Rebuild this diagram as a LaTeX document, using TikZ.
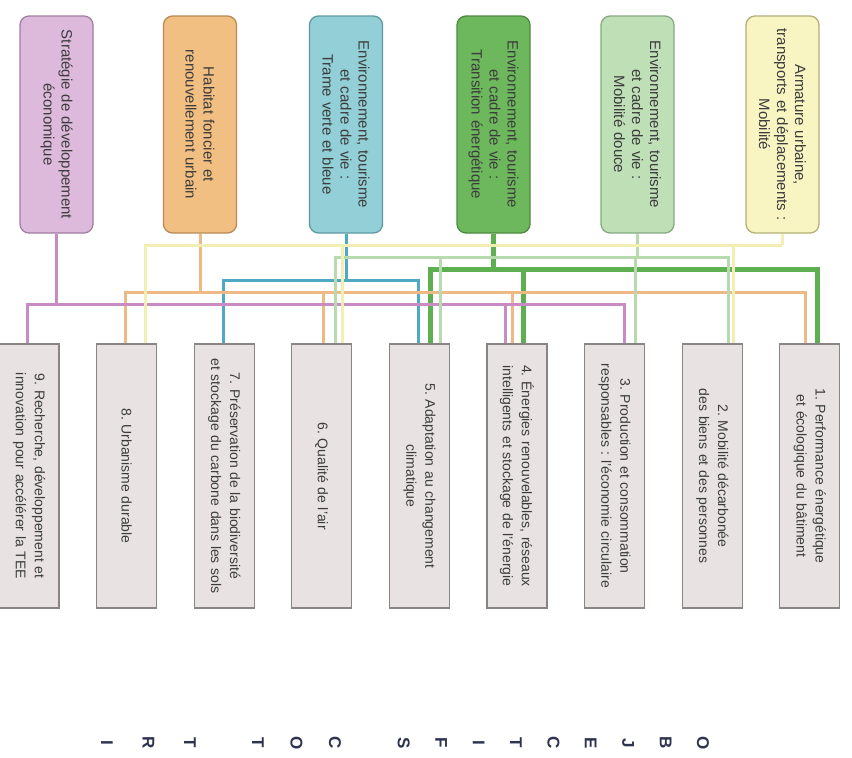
\documentclass[tikz,border=0pt]{standalone}
\usepackage{fontspec}
\setmainfont{Liberation Sans}
\frenchspacing
\definecolor{rosefill}{HTML}{DDB9DB}
\definecolor{roseline}{HTML}{A17EA2}
\definecolor{roselink}{HTML}{C98BC4}
\definecolor{orangefill}{HTML}{F2BF82}
\definecolor{orangeline}{HTML}{B98B55}
\definecolor{orangelink}{HTML}{EDBA85}
\definecolor{bluefill}{HTML}{92CFD6}
\definecolor{blueline}{HTML}{5F9AA3}
\definecolor{bluelink}{HTML}{4FA9C2}
\definecolor{greenfill}{HTML}{6DB85C}
\definecolor{greenline}{HTML}{4D8A40}
\definecolor{greenlink}{HTML}{5EAF50}
\definecolor{mintfill}{HTML}{BFE0B7}
\definecolor{mintline}{HTML}{86A983}
\definecolor{mintlink}{HTML}{B7DBAF}
\definecolor{creamfill}{HTML}{F8F5C2}
\definecolor{creamline}{HTML}{B5AF78}
\definecolor{creamlink}{HTML}{F2EEB4}
\definecolor{boxfill}{HTML}{E8E2E2}
\definecolor{boxline}{HTML}{8A8585}
\definecolor{txt}{HTML}{3C3C3C}
\definecolor{lettre}{HTML}{2E3450}
\begin{document}
\begin{tikzpicture}[x=1pt,y=-1pt]
		\tikzset{theme/.style = {shape=rectangle,rounded corners=9pt,draw,line width=1.3pt,rotate=-90,minimum width=217pt,minimum height=73pt,text width=205pt,align=center,text=txt,font=\fontsize{15}{18}\selectfont}}
		\tikzset{objectif/.style = {shape=rectangle,draw=boxline,fill=boxfill,line width=1.3pt,rotate=-90,minimum width=264pt,minimum height=60pt,text width=250pt,align=center,text=txt,font=\fontsize{14}{19}\selectfont}}
		\tikzset{link/.style = {line width=3pt}}
		\tikzset{letter/.style = {rotate=-90,text=lettre,font=\bfseries\fontsize{17}{17}\selectfont}}
		\fill[white] (0,0) rectangle (852,758);
		\useasboundingbox (0,0) rectangle (852,758);
		\node[theme,fill=rosefill,draw=roseline] (t1) at (56.5,124.5) {Stratégie de développement\\économique};
		\node[theme,fill=orangefill,draw=orangeline] (t2) at (200,124.5) {Habitat foncier et\\renouvellement urbain};
		\node[theme,fill=bluefill,draw=blueline] (t3) at (346,124.5) {Environnement, tourisme\\et cadre de vie :\\Trame verte et bleue};
		\node[theme,fill=greenfill,draw=greenline] (t4) at (493.5,124.5) {Environnement, tourisme\\et cadre de vie :\\Transition énergétique};
		\node[theme,fill=mintfill,draw=mintline] (t5) at (637.5,124.5) {Environnement, tourisme\\et cadre de vie :\\Mobilité douce};
		\node[theme,fill=creamfill,draw=creamline] (t6) at (782.5,124.5) {Armature urbaine,\\transports et déplacements :\\Mobilité};
		\node[objectif] (b9) at (29,476) {9. Recherche, développement et\\innovation pour accélérer la TEE};
		\node[objectif] (b8) at (126.6,476) {8. Urbanisme durable};
		\node[objectif] (b7) at (224.2,476) {7. Préservation de la biodiversité\\et stockage du carbone dans les sols};
		\node[objectif] (b6) at (321.8,476) {6. Qualité de l'air};
		\node[objectif] (b5) at (419.4,476) {5. Adaptation au changement\\climatique};
		\node[objectif] (b4) at (517,476) {4. Énergies renouvelables, réseaux\\intelligents et stockage de l'énergie};
		\node[objectif] (b3) at (614.6,476) {3. Production et consommation\\responsables : l'économie circulaire};
		\node[objectif] (b2) at (712.2,476) {2. Mobilité décarbonée\\des biens et des personnes};
		\node[objectif] (b1) at (809.8,476) {1. Performance énergétique\\et écologique du bâtiment};
		\path[draw,link,line width=5pt,greenlink] (t4.east) -- (t4.east |- 0,269)
			(b5.west -| 430,0) |- (817,269) -- (b1.west -| 817,0)
			(523,269) -- (b4.west -| 523,0);
		\path[draw,link,bluelink] (t3.east) -- (t3.east |- 0,280)
			(b7.west -| 223,0) |- (418,280) -- (b5.west -| 418,0);
		\path[draw,link,orangelink] (t2.east) -- (t2.east |- 0,292)
			(b8.west -| 125,0) |- (805,292) -- (b1.west -| 805,0)
			(323,292) -- (b6.west -| 323,0)
			(512,292) -- (b4.west -| 512,0);
		\path[draw,link,roselink] (t1.east) -- (t1.east |- 0,304)
			(b9.west -| 27,0) |- (624,304) -- (b3.west -| 624,0)
			(505,304) -- (b4.west -| 505,0);
		\path[draw,link,mintlink] (t5.east) -- (t5.east |- 0,257)
			(b6.west -| 335,0) |- (728,257) -- (b2.west -| 728,0)
			(440,257) -- (b5.west -| 440,0)
			(635,257) -- (b3.west -| 635,0);
		\path[draw,link,creamlink] (t6.east) -- (t6.east |- 0,245)
			(b8.west -| 145,0) |- (782,245)
			(342,245) -- (b6.west -| 342,0)
			(733,245) -- (b2.west -| 733,0);
		\foreach \l/\x [count=\i] in {O/703,B/665.6,J/628.2,E/590.8,C/553.4,T/516,I/478.6,F/441.2,S/403.8,C/335,O/296.5,T/258,T/190,R/148.5,I/107}
			\node[letter] (l\i) at (\x,743) {\l};
	\end{tikzpicture}
\end{document}
